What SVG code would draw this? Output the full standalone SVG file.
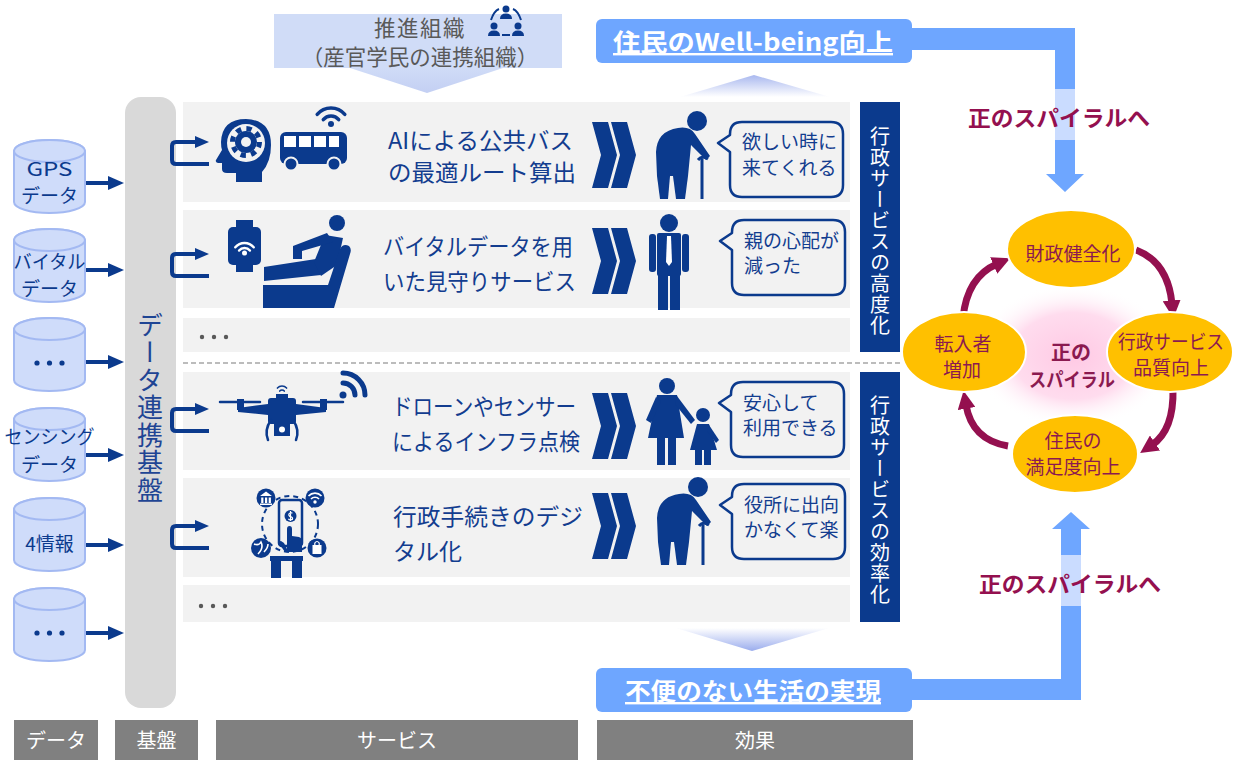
<svg xmlns="http://www.w3.org/2000/svg" width="1235" height="760" viewBox="0 0 1235 760">
<defs>
<style>
.f{font-family:"Noto Sans CJK JP","Noto Sans",sans-serif}
.nv{fill:#0b3a8d}
.row{fill:#f2f2f2}
.cyl{fill:#cfdcfa;stroke:#a3b9f2;stroke-width:2}
.ct{font-size:19px;fill:#0b3a8d;text-anchor:middle}
.st{font-size:23px;fill:#133d8f}
.bt{font-size:19px;fill:#133d8f}
.bub{fill:#f2f2f2;stroke:#0b3a8d;stroke-width:2.5;stroke-linejoin:round}
.lab{fill:#808080}
.lt{font-size:20px;fill:#ffffff;text-anchor:middle}
.band{fill:#6ea6ff}
.lite{fill:#cadcff}
.sp{fill:#ffc000;stroke:#ffffff;stroke-width:2}
.spt{font-size:19px;fill:#8b1a50;text-anchor:middle}
.hd{font-size:22px;font-weight:bold;fill:#94104f;text-anchor:middle}
.arc{fill:none;stroke:#94104f;stroke-width:7}
.link{fill:none;stroke:#0b3a8d;stroke-width:4}
.wifi{fill:none;stroke:#0b3a8d;stroke-linecap:round}
.vt{writing-mode:vertical-rl;text-anchor:middle}
.dot{fill:#595959}
</style>
<marker id="mh" viewBox="0 0 10 10" refX="2" refY="5" markerWidth="18" markerHeight="18" markerUnits="userSpaceOnUse" orient="auto">
<path d="M0,0 L10,5 L0,10 Z" fill="#94104f"/>
</marker>
<linearGradient id="gUp" x1="0" y1="0" x2="0" y2="1">
<stop offset="0" stop-color="#a9b8ef"/>
<stop offset="1" stop-color="#ffffff"/>
</linearGradient>
<linearGradient id="gDown" x1="0" y1="0" x2="0" y2="1">
<stop offset="0" stop-color="#ffffff"/>
<stop offset="1" stop-color="#9aaced"/>
</linearGradient>
<linearGradient id="gOrg" x1="0" y1="0" x2="0" y2="1">
<stop offset="0" stop-color="#d0dcf7"/>
<stop offset="1" stop-color="#c3cff3"/>
</linearGradient>
<radialGradient id="glow" cx="0.5" cy="0.5" r="0.5">
<stop offset="0" stop-color="#ffc9e4"/>
<stop offset="0.6" stop-color="#ffdcee"/>
<stop offset="1" stop-color="#ffffff" stop-opacity="0"/>
</radialGradient>
<!-- data store drum, 71 x 73 -->
<g id="cyl">
<path class="cyl" d="M0,11 A35.5,11 0 0 1 71,11 V62 A35.5,11 0 0 1 0,62 Z"/>
<ellipse class="cyl" cx="35.5" cy="11" rx="35.5" ry="11"/>
</g>
<!-- double chevron -->
<g id="chev" class="nv">
<polygon points="0,0 16,0 25,33 16,66 0,66 9,33"/>
<polygon points="19,0 35,0 44,33 35,66 19,66 28,33"/>
</g>
<!-- speech bubble, pointer on the left -->
<path id="bubble" class="bub" d="M12,0 H101 Q113,0 113,12 V63 Q113,75 101,75 H12 Q0,75 0,63 V30 L-12,21 L0,13 V12 Q0,0 12,0 Z"/>
<!-- link from the platform into a service row -->
<g id="link">
<path class="link" d="M209,22 H176 Q172,22 172,18 V4 Q172,0 176,0 H197"/>
<polygon class="nv" points="195,-6 209,0 195,6"/>
</g>
<!-- elderly person with a cane -->
<g id="elder" class="nv">
<circle cx="45" cy="9" r="10"/>
<path d="M5,64 L4,40 Q5,19 26,16 Q38,14 43,22 L58,44 L54,48 L39,33 L36,64 Z"/>
<path d="M5,64 L18,64 L16,87 L8,87 Z"/>
<path d="M21,64 L36,64 L33,87 L24,87 Z"/>
<path d="M50,47 L50,87" fill="none" stroke="#0b3a8d" stroke-width="3"/>
<path d="M46,48 Q50,43 56,47" fill="none" stroke="#0b3a8d" stroke-width="3"/>
</g>
</defs>

<rect width="1235" height="760" fill="#ffffff"/>

<!-- organisation header -->
<g id="n-org" class="f">
<rect x="274" y="14" width="288" height="54" fill="#d0dcf7"/>
<polygon points="350,68 503,68 427,93" fill="url(#gOrg)"/>
<text x="420" y="36" font-size="21.5" fill="#595959" text-anchor="middle" letter-spacing="1.5">推進組織</text>
<text x="420" y="65" font-size="21.5" fill="#595959" text-anchor="middle">（産官学民の連携組織）</text>
<g class="nv">
<circle cx="506" cy="9" r="3.5"/>
<path d="M500,19 Q500,13.5 506,13.5 Q512,13.5 512,19 Z"/>
<circle cx="494" cy="26" r="3.5"/>
<path d="M488,36 Q488,30.5 494,30.5 Q500,30.5 500,36 Z"/>
<circle cx="518" cy="26" r="3.5"/>
<path d="M512,36 Q512,30.5 518,30.5 Q524,30.5 524,36 Z"/>
</g>
<path d="M491,20 Q494,11 499,9 M513,9 Q518,11 521,20 M502,35 H510" fill="none" stroke="#0b3a8d" stroke-width="2"/>
</g>

<!-- effect boxes -->
<g id="n-wellbeing" class="f">
<rect x="596" y="19" width="316" height="44" rx="6" class="band"/>
<text x="753" y="51" font-size="24" font-weight="bold" fill="#ffffff" text-anchor="middle" text-decoration="underline" textLength="280" lengthAdjust="spacingAndGlyphs">住民のWell-being向上</text>
</g>
<polygon points="680,97 754,75 830,97" fill="url(#gUp)"/>
<g id="n-convenience" class="f">
<rect x="596" y="668" width="316" height="44" rx="6" class="band"/>
<text x="753" y="700" font-size="24" font-weight="bold" fill="#ffffff" text-anchor="middle" text-decoration="underline" textLength="256" lengthAdjust="spacingAndGlyphs">不便のない生活の実現</text>
</g>
<polygon points="676,628 829,628 752,651" fill="url(#gDown)"/>

<!-- data stores -->
<g id="n-gps" class="f">
<use href="#cyl" x="14" y="140"/>
<text x="49.5" y="176" class="ct" font-size="21" textLength="46" lengthAdjust="spacingAndGlyphs">GPS</text>
<text x="49.5" y="203" class="ct">データ</text>
</g>
<g id="n-vital" class="f">
<use href="#cyl" x="14" y="229"/>
<text x="49.5" y="269" class="ct" textLength="72" lengthAdjust="spacingAndGlyphs">バイタル</text>
<text x="49.5" y="296" class="ct">データ</text>
</g>
<g id="n-more1" class="f">
<use href="#cyl" x="14" y="318"/>
<g fill="#0b3a8d"><circle cx="37" cy="363" r="2.6"/><circle cx="49.5" cy="363" r="2.6"/><circle cx="62" cy="363" r="2.6"/></g>
</g>
<g id="n-sensing" class="f">
<use href="#cyl" x="14" y="408"/>
<text x="49.5" y="444" class="ct" textLength="90" lengthAdjust="spacingAndGlyphs">センシング</text>
<text x="49.5" y="472" class="ct">データ</text>
</g>
<g id="n-4info" class="f">
<use href="#cyl" x="14" y="498"/>
<text x="49.5" y="551" class="ct" font-size="20">4情報</text>
</g>
<g id="n-more2" class="f">
<use href="#cyl" x="14" y="588"/>
<g fill="#0b3a8d"><circle cx="37" cy="633" r="2.6"/><circle cx="49.5" cy="633" r="2.6"/><circle cx="62" cy="633" r="2.6"/></g>
</g>

<!-- data linkage platform -->
<g id="n-platform" class="f">
<rect x="125" y="97" width="51" height="611" rx="16" fill="#d9d9d9"/>
<text x="150" y="408" class="vt" font-size="26" fill="#1f4594" letter-spacing="1.5">データ連携基盤</text>
</g>

<!-- service rows -->
<g id="rows">
<rect x="183" y="102" width="667" height="100" class="row"/>
<rect x="183" y="210" width="667" height="98" class="row"/>
<rect x="183" y="318" width="667" height="34" class="row"/>
<rect x="183" y="372" width="667" height="98" class="row"/>
<rect x="183" y="478" width="667" height="99" class="row"/>
<rect x="183" y="585" width="667" height="37" class="row"/>
<line x1="183" y1="363" x2="900" y2="363" stroke="#a6a6a6" stroke-width="1.5" stroke-dasharray="5 3"/>
<g class="dot"><circle cx="202" cy="337" r="2.2"/><circle cx="214" cy="337" r="2.2"/><circle cx="226" cy="337" r="2.2"/></g>
<g class="dot"><circle cx="201" cy="606" r="2.2"/><circle cx="213" cy="606" r="2.2"/><circle cx="225" cy="606" r="2.2"/></g>
</g>

<!-- service 1: AI bus routing -->
<g id="n-bus" class="f">
<path class="nv" d="M262,182 L262,172 Q271,162 271,145 Q271,120 246,119 Q222,119 221,142 Q221,147 222,150 L216,160 Q215,162 218,163 L222,163 L222,169 Q222,173 227,173 L236,173 L236,182 Z"/>
<circle cx="246" cy="143" r="19" fill="#f2f2f2"/>
<circle cx="246" cy="142" r="11" class="nv"/>
<circle cx="246" cy="142" r="13.5" fill="none" stroke="#0b3a8d" stroke-width="5" stroke-dasharray="5.3 5.3"/>
<circle cx="246" cy="142" r="5" fill="#f2f2f2"/>
<rect x="280" y="132" width="67" height="32" rx="6" class="nv"/>
<g fill="#ffffff">
<rect x="284" y="136" width="12" height="11"/><rect x="299" y="136" width="12" height="11"/><rect x="314" y="136" width="12" height="11"/><rect x="329" y="136" width="10" height="11"/>
</g>
<circle cx="291" cy="164" r="6.5" class="nv" stroke="#f2f2f2" stroke-width="2"/>
<circle cx="334" cy="164" r="6.5" class="nv" stroke="#f2f2f2" stroke-width="2"/>
<circle cx="331" cy="124" r="3" class="nv"/>
<path class="wifi" stroke-width="3.5" d="M323.3,119.6 A10,10 0 0 1 338.7,119.6 M317.2,114.4 A18,18 0 0 1 344.8,114.4"/>
<text x="388" y="149" class="st" textLength="185" lengthAdjust="spacingAndGlyphs">AIによる公共バス</text>
<text x="388" y="181" class="st" textLength="188" lengthAdjust="spacingAndGlyphs">の最適ルート算出</text>
<use href="#chev" x="592" y="122"/>
<use href="#elder" x="652" y="112"/>
<use href="#bubble" x="730" y="122"/>
<text x="742" y="149" class="bt">欲しい時に</text>
<text x="742" y="175" class="bt">来てくれる</text>
</g>

<!-- service 2: vital-data monitoring -->
<g id="n-watch" class="f">
<rect x="236" y="220" width="17" height="10" class="nv"/>
<rect x="236" y="262" width="17" height="10" class="nv"/>
<rect x="228" y="227" width="33" height="38" rx="5" class="nv"/>
<circle cx="244.5" cy="253" r="2.5" fill="#ffffff"/>
<path d="M239.1,250.5 A7,7 0 0 1 249.9,250.5 M235.3,247.3 A12,12 0 0 1 253.7,247.3" fill="none" stroke="#ffffff" stroke-width="2.5" stroke-linecap="round"/>
<circle cx="337" cy="223" r="8" class="nv"/>
<path class="nv" d="M264,267 L316,259 L321,275 L264,281 Z"/>
<path class="nv" d="M325,235 L343,238 L337,265 L321,276 L314,262 Z"/>
<path class="nv" d="M327,233 L333,242 L302,251 L302,259 L293,259 L293,246 Z"/>
<path class="nv" d="M263,285 L328,285 L340,249 Q343,243 349,246 Q352,249 350,254 L334,308 L263,308 Z"/>
<text x="383" y="255" class="st" textLength="190" lengthAdjust="spacingAndGlyphs">バイタルデータを用</text>
<text x="383" y="290" class="st" textLength="193" lengthAdjust="spacingAndGlyphs">いた見守りサービス</text>
<use href="#chev" x="592" y="228"/>
<g class="nv">
<circle cx="669" cy="223" r="9"/>
<rect x="649" y="234" width="7" height="38" rx="3"/>
<rect x="682" y="234" width="7" height="38" rx="3"/>
<rect x="657" y="233" width="24" height="43" rx="2"/>
<rect x="658" y="274" width="10" height="36"/>
<rect x="670" y="274" width="10" height="36"/>
</g>
<polygon points="667,236 671,236 672,262 669,266 666,262" fill="#ffffff"/>
<use href="#bubble" x="732" y="220"/>
<text x="744" y="248" class="bt">親の心配が</text>
<text x="744" y="273" class="bt">減った</text>
</g>

<!-- service 3: drone / sensor inspection -->
<g id="n-drone" class="f">
<path class="wifi" stroke-width="2.5" d="M220,402 H260 M303,402 H343"/>
<rect x="237" y="399" width="7" height="11" class="nv"/>
<rect x="320" y="399" width="7" height="11" class="nv"/>
<path class="nv" d="M238,408 L268,404 L296,404 L326,408 L326,412 L296,415 L268,415 L238,412 Z"/>
<rect x="268" y="398" width="28" height="26" rx="3" class="nv"/>
<rect x="276" y="394" width="12" height="5" class="nv"/>
<rect x="274" y="423" width="16" height="13" class="nv"/>
<circle cx="282" cy="429.5" r="3" fill="#ffffff"/>
<path class="wifi" stroke-width="2.5" d="M271,420 Q264,430 268,440 M293,420 Q300,430 296,440"/>
<path class="wifi" stroke-width="1.5" d="M279.7,391.1 A3,3 0 0 1 284.3,391.1 M277.4,388.1 A6,6 0 0 1 286.6,388.1"/>
<circle cx="343" cy="395" r="3.5" class="nv"/>
<path class="wifi" stroke-width="5" stroke-linecap="butt" d="M343,383 A12,12 0 0 1 355,395 M343,373 A22,22 0 0 1 365,395"/>
<text x="392" y="415" class="st" textLength="184" lengthAdjust="spacingAndGlyphs">ドローンやセンサー</text>
<text x="392" y="450" class="st" textLength="188" lengthAdjust="spacingAndGlyphs">によるインフラ点検</text>
<use href="#chev" x="592" y="393"/>
<g class="nv">
<circle cx="667" cy="386" r="8"/>
<path d="M657,395 L677,395 L684,438 L648,438 Z"/>
<polygon points="656,397 661,401 651,423 646,420"/>
<polygon points="677,396 695,420 691,424 675,404"/>
<rect x="657" y="437" width="8" height="28"/>
<rect x="668" y="437" width="8" height="28"/>
<circle cx="703" cy="415" r="7"/>
<polygon points="697,424 709,424 717,450 690,450"/>
<polygon points="709,425 719,440 716,443 707,431"/>
<rect x="695" y="449" width="7" height="16"/>
<rect x="704" y="449" width="7" height="16"/>
</g>
<use href="#bubble" x="731" y="382"/>
<text x="743" y="410" class="bt">安心して</text>
<text x="743" y="435" class="bt">利用できる</text>
</g>

<!-- service 4: digital procedures -->
<g id="n-digital" class="f">
<circle cx="290" cy="524" r="28" fill="none" stroke="#0b3a8d" stroke-width="2" stroke-dasharray="5 4"/>
<rect x="279" y="500" width="23" height="46" rx="3" fill="#f2f2f2" stroke="#0b3a8d" stroke-width="2.5"/>
<circle cx="290.5" cy="516" r="6" class="nv"/>
<path d="M292.5,513 Q288.5,512.5 288.8,515 Q289.2,516.5 291,516.8 Q293,517.5 292.4,519.4 Q290,520.5 288.3,518.8 M290.5,511 V521" fill="none" stroke="#ffffff" stroke-width="1.2"/>
<path class="nv" d="M287,549 L287,529 Q287,526 289.5,526 Q292,526 292,529 L292,536 L299,537 Q302,538 302,541 L302,552 L285,552 L280,545 Q278,541 281,541 L284,543 Z"/>
<circle cx="266" cy="498" r="9.5" class="nv"/>
<path d="M260,496 L266,491.5 L272,496 Z M261.2,497.5 H263.4 V503 H261.2 Z M265,497.5 H267.2 V503 H265 Z M268.7,497.5 H270.9 V503 H268.7 Z M260,503.5 H272 V505 H260 Z" fill="#ffffff"/>
<circle cx="315" cy="498" r="9.5" class="nv"/>
<circle cx="315" cy="502" r="1.7" fill="#ffffff"/>
<path d="M311,499 A5.5,5.5 0 0 1 319,499 M308.5,496 A9,9 0 0 1 321.5,496" fill="none" stroke="#ffffff" stroke-width="1.7"/>
<circle cx="261" cy="548" r="10" class="nv"/>
<path d="M254,544 Q259,546 261,542 Q264,548 258,554 M264,552 Q268,548 268,544" fill="none" stroke="#ffffff" stroke-width="1.6"/>
<circle cx="317" cy="548" r="9.5" class="nv"/>
<rect x="312.5" y="545" width="9" height="9" fill="#ffffff"/>
<path d="M314.8,545 V543 Q317,540 319.2,543 V545" fill="none" stroke="#ffffff" stroke-width="1.2"/>
<rect x="270" y="556" width="33" height="5" class="nv"/>
<rect x="271" y="556" width="10" height="22" class="nv"/>
<rect x="292" y="556" width="10" height="22" class="nv"/>
<text x="393" y="525" class="st" textLength="190" lengthAdjust="spacingAndGlyphs">行政手続きのデジ</text>
<text x="393" y="560" class="st">タル化</text>
<use href="#chev" x="592" y="493"/>
<use href="#elder" x="653" y="478"/>
<use href="#bubble" x="732" y="484"/>
<text x="744" y="512" class="bt">役所に出向</text>
<text x="744" y="537" class="bt">かなくて楽</text>
</g>

<!-- platform-to-service links -->
<g id="links">
<use href="#link" y="142"/>
<use href="#link" y="254"/>
<use href="#link" y="409"/>
<use href="#link" y="526"/>
</g>

<!-- service category bars -->
<g id="n-advance" class="f">
<rect x="860" y="102" width="40" height="250" fill="#0b3a8d"/>
<text x="880" y="231" class="vt" font-size="20" fill="#ffffff" letter-spacing="1">行政サービスの高度化</text>
</g>
<g id="n-efficiency" class="f">
<rect x="860" y="372" width="40" height="250" fill="#0b3a8d"/>
<text x="880" y="500" class="vt" font-size="20" fill="#ffffff" letter-spacing="1">行政サービスの効率化</text>
</g>

<!-- data-to-platform arrows -->
<g id="data-arrows" class="nv">
<rect x="86" y="181" width="24" height="4"/><polygon points="108,176 124,183 108,190"/>
<rect x="86" y="268" width="24" height="4"/><polygon points="108,263 124,270 108,277"/>
<rect x="86" y="360" width="24" height="4"/><polygon points="108,355 124,362 108,369"/>
<rect x="86" y="453" width="24" height="4"/><polygon points="108,448 124,455 108,462"/>
<rect x="86" y="543" width="24" height="4"/><polygon points="108,538 124,545 108,552"/>
<rect x="86" y="631" width="24" height="4"/><polygon points="108,626 124,633 108,640"/>
</g>

<!-- feedback bands into the spiral -->
<g id="bands">
<path class="band" d="M911,28 H1075 V174 H1084 L1065,192 L1046,174 H1055 V50 H911 Z"/>
<rect x="1055" y="89" width="20" height="51" class="lite"/>
<path class="band" d="M911,679 H1061 V529 H1052 L1071,512 L1090,529 H1081 V700 H911 Z"/>
<rect x="1061" y="555" width="20" height="51" class="lite"/>
</g>
<text x="1059" y="126" class="f hd" textLength="182" lengthAdjust="spacingAndGlyphs">正のスパイラルへ</text>
<text x="1070" y="592" class="f hd" textLength="182" lengthAdjust="spacingAndGlyphs">正のスパイラルへ</text>

<!-- positive spiral -->
<ellipse cx="1073" cy="356" rx="100" ry="72" fill="url(#glow)"/>
<g id="spiral-arrows">
<path class="arc" marker-end="url(#mh)" d="M1136,250 Q1168,262 1172,304"/>
<path class="arc" marker-end="url(#mh)" d="M1173,389 Q1174,430 1152,445"/>
<path class="arc" marker-end="url(#mh)" d="M1008,446 Q972,440 966,405"/>
<path class="arc" marker-end="url(#mh)" d="M963,318 Q967,277 997,264"/>
</g>
<g id="n-finance" class="f">
<ellipse cx="1071" cy="249" rx="64" ry="39" class="sp"/>
<text x="1073" y="261" class="spt" font-size="21">財政健全化</text>
</g>
<g id="n-quality" class="f">
<ellipse cx="1170" cy="352" rx="63" ry="40" class="sp"/>
<text x="1171" y="349" class="spt" textLength="106" lengthAdjust="spacingAndGlyphs">行政サービス</text>
<text x="1171" y="375" class="spt">品質向上</text>
</g>
<g id="n-migrants" class="f">
<ellipse cx="964" cy="352" rx="62" ry="40" class="sp"/>
<text x="963" y="351" class="spt">転入者</text>
<text x="962" y="377" class="spt">増加</text>
</g>
<g id="n-satisfaction" class="f">
<ellipse cx="1075" cy="454" rx="63" ry="39" class="sp"/>
<text x="1073" y="448" class="spt">住民の</text>
<text x="1073" y="474" class="spt" font-size="20">満足度向上</text>
</g>
<g id="n-spiral" class="f">
<text x="1071" y="360" font-size="20" font-weight="bold" fill="#8b1a50" text-anchor="middle">正の</text>
<text x="1072" y="387" font-size="19" font-weight="bold" fill="#8b1a50" text-anchor="middle" textLength="86" lengthAdjust="spacingAndGlyphs">スパイラル</text>
</g>

<!-- column labels -->
<g id="n-labels" class="f">
<rect x="14" y="720" width="84" height="40" class="lab"/>
<text x="56" y="748" class="lt">データ</text>
<rect x="115" y="720" width="83" height="40" class="lab"/>
<text x="156.5" y="748" class="lt">基盤</text>
<rect x="216" y="720" width="362" height="40" class="lab"/>
<text x="397" y="748" class="lt">サービス</text>
<rect x="597" y="720" width="316" height="40" class="lab"/>
<text x="755" y="748" class="lt">効果</text>
</g>
</svg>
